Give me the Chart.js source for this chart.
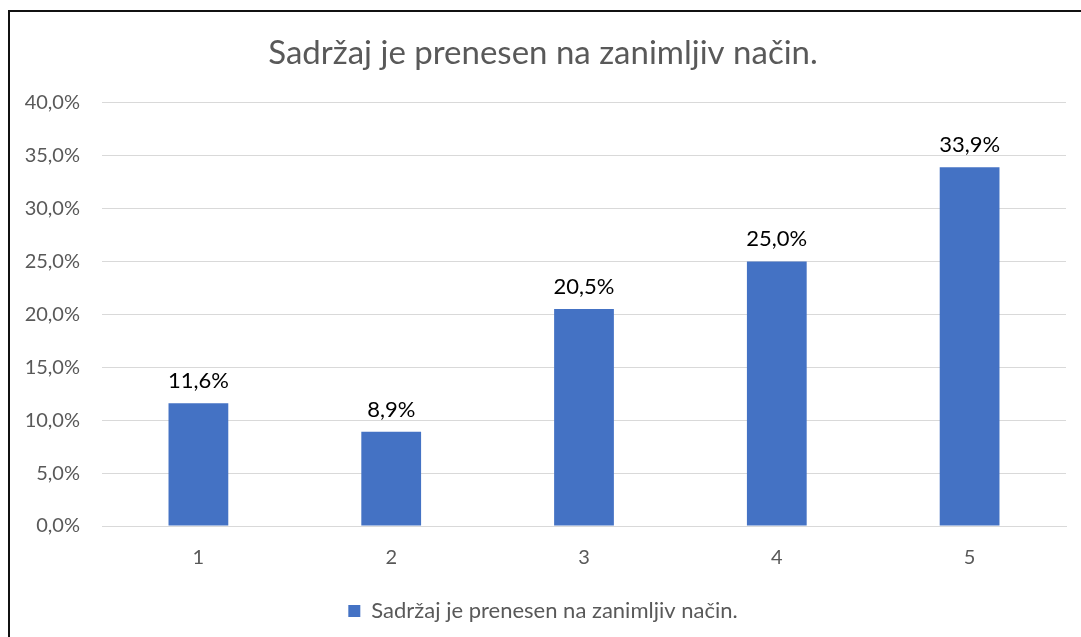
<!DOCTYPE html>
<html>
<head>
<meta charset="utf-8">
<script src="https://cdn.jsdelivr.net/npm/chart.js@4"></script>
<style>
    html, body { margin: 0; padding: 0; background: #fff; overflow: hidden; }
    #wrap { position: absolute; left: 0; top: 0; width: 1081px; height: 637px; }
    #frame { position: absolute; left: 8px; top: 10px; width: 1200px; height: 800px;
             border: 2px solid #111; pointer-events: none; }
</style>
</head>
<body>
<div id="wrap"><canvas id="chart" width="1081" height="637"></canvas></div>
<div id="frame"></div>
<script>
const categories = ['1', '2', '3', '4', '5'];
const values = [11.6, 8.9, 20.5, 25.0, 33.9];
const yTickLabels = ['0,0%', '5,0%', '10,0%', '15,0%', '20,0%', '25,0%', '30,0%', '35,0%', '40,0%'];
const seriesName = 'Sadržaj je prenesen na zanimljiv način.';

const pct = v => v.toFixed(1).replace('.', ',') + '%';

// etiquetas encima de cada barra
const barLabels = {
    id: 'barLabels',
    afterDatasetsDraw(chart) {
        const c = chart.ctx;
        const meta = chart.getDatasetMeta(0);
        c.save();
        c.font = '22px Lato';
        c.fillStyle = '#000';
        c.textAlign = 'center';
        c.textBaseline = 'bottom';
        meta.data.forEach((bar, i) => {
            c.fillText(pct(values[i]), bar.x, bar.y - 11);
        });
        c.restore();
    }
};

Chart.defaults.font.family = 'Lato';
Chart.defaults.color = '#595959';

const chart = document.getElementById('chart');

const ctx = new Chart(chart, {
    type: 'bar',
    data: {
        labels: categories,
        datasets: [{
            label: seriesName,
            data: values,
            backgroundColor: '#4472C4',
            borderWidth: 0,
            barPercentage: 0.31,
            categoryPercentage: 1
        }]
    },
    options: {
        responsive: false,
        animation: false,
        layout: { padding: { left: 20, right: 15, top: 19, bottom: 5 } },
        scales: {
            x: {
                grid: { display: false, drawTicks: false },
                border: { display: true, color: '#d9d9d9', width: 1 },
                ticks: { padding: 20, font: { size: 20 }, color: '#595959' }
            },
            y: {
                min: 0,
                max: 40,
                afterFit(scale) { scale.width = 82; },
                grid: { color: '#d9d9d9', lineWidth: 1, drawTicks: false },
                border: { display: false },
                ticks: {
                    stepSize: 5,
                    padding: 22,
                    font: { size: 20 },
                    color: '#595959',
                    callback: (v, i) => yTickLabels[i]
                }
            }
        },
        plugins: {
            title: {
                display: true,
                text: seriesName,
                color: '#595959',
                font: { size: 33, weight: 'normal' },
                padding: { top: 15, bottom: 29 }
            },
            legend: {
                position: 'bottom',
                labels: {
                    boxWidth: 12,
                    boxHeight: 12,
                    padding: 10,
                    color: '#595959',
                    font: { size: 22 }
                }
            },
            tooltip: { enabled: false }
        }
    },
    plugins: [barLabels]
});
</script>
</body>
</html>
